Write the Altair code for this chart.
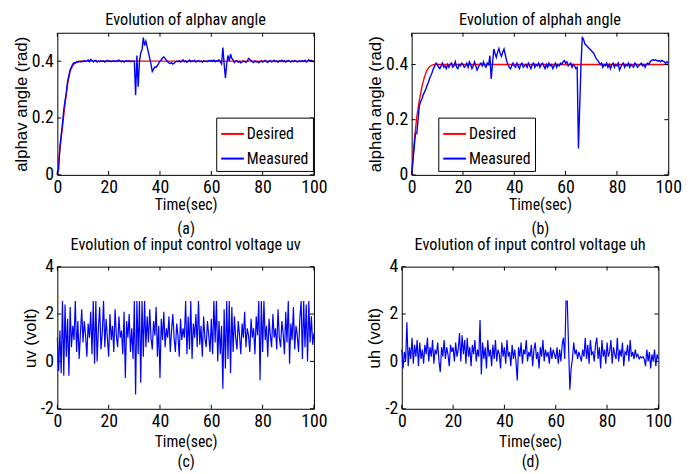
import altair as alt
import pandas as pd
import numpy as np

# ---------------- data ----------------
STEP = 0.5  # seconds between samples of the measured series

alphav_measured = [
    0.0, 0.02, 0.1, 0.14, 0.18, 0.23, 0.26, 0.29, 0.33, 0.35,
    0.37, 0.38, 0.39, 0.395, 0.393, 0.398, 0.396, 0.399, 0.397, 0.4,
    0.398, 0.402, 0.399, 0.401, 0.404, 0.398, 0.406, 0.403, 0.398, 0.401,
    0.403, 0.397, 0.4, 0.398, 0.402, 0.399, 0.401, 0.397, 0.4, 0.403,
    0.399, 0.401, 0.398, 0.4, 0.402, 0.398, 0.401, 0.399, 0.404, 0.4,
    0.398, 0.401, 0.397, 0.4, 0.402, 0.399, 0.401, 0.398, 0.4, 0.4,
    0.40, 0.28, 0.42, 0.31, 0.40, 0.43, 0.44, 0.483, 0.455, 0.47,
    0.45, 0.43, 0.41, 0.39, 0.364, 0.372, 0.38, 0.378, 0.385, 0.392,
    0.40, 0.405, 0.412, 0.415, 0.41, 0.404, 0.398, 0.394, 0.392, 0.395,
    0.39, 0.393, 0.397, 0.4, 0.398, 0.402, 0.397, 0.4, 0.405, 0.398,
    0.401, 0.396, 0.4, 0.404, 0.398, 0.401, 0.399, 0.403, 0.397, 0.4,
    0.402, 0.398, 0.4, 0.397, 0.401, 0.399, 0.4, 0.398, 0.402, 0.4,
    0.403, 0.399, 0.404, 0.398, 0.402, 0.4, 0.405, 0.398, 0.39, 0.448,
    0.39, 0.341, 0.39, 0.42, 0.40, 0.425, 0.41, 0.405, 0.395, 0.4,
    0.402, 0.396, 0.399, 0.394, 0.397, 0.401, 0.398, 0.396, 0.4, 0.41,
    0.406, 0.402, 0.398, 0.395, 0.401, 0.397, 0.399, 0.394, 0.398, 0.401,
    0.397, 0.4, 0.403, 0.398, 0.396, 0.4, 0.402, 0.397, 0.399, 0.403,
    0.398, 0.4, 0.396, 0.401, 0.399, 0.404, 0.398, 0.401, 0.397, 0.4,
    0.403, 0.399, 0.397, 0.401, 0.398, 0.402, 0.4, 0.397, 0.399, 0.401,
    0.398, 0.402, 0.399, 0.403, 0.397, 0.401, 0.405, 0.4, 0.403, 0.399,
    0.398,
]

alphah_measured = [
    0.0, 0.05, 0.1, 0.15, 0.15, 0.2, 0.25, 0.265, 0.275, 0.29,
    0.30, 0.31, 0.324, 0.335, 0.35, 0.36, 0.372, 0.385, 0.395, 0.405,
    0.4, 0.39, 0.385, 0.395, 0.405, 0.39, 0.395, 0.385, 0.4, 0.39,
    0.4, 0.405, 0.39, 0.395, 0.41, 0.39, 0.385, 0.4, 0.395, 0.405,
    0.4, 0.39, 0.395, 0.405, 0.39, 0.41, 0.4, 0.385, 0.395, 0.41,
    0.395, 0.38, 0.39, 0.4, 0.405, 0.395, 0.41, 0.395, 0.39, 0.405,
    0.4, 0.432, 0.348, 0.4, 0.456, 0.44, 0.426, 0.445, 0.458, 0.44,
    0.43, 0.445, 0.456, 0.435, 0.414, 0.4, 0.39, 0.384, 0.395, 0.405,
    0.395, 0.39, 0.405, 0.395, 0.385, 0.4, 0.405, 0.39, 0.395, 0.4,
    0.39, 0.405, 0.395, 0.385, 0.4, 0.405, 0.39, 0.4, 0.395, 0.405,
    0.39, 0.4, 0.405, 0.395, 0.385, 0.4, 0.39, 0.405, 0.395, 0.4,
    0.385, 0.395, 0.405, 0.39, 0.4, 0.395, 0.405, 0.4, 0.41, 0.414,
    0.405, 0.41, 0.395, 0.4, 0.405, 0.39, 0.4, 0.395, 0.385, 0.39,
    0.096, 0.25, 0.40, 0.5, 0.49, 0.475, 0.47, 0.465, 0.46, 0.455,
    0.45, 0.445, 0.44, 0.43, 0.42, 0.415, 0.408, 0.4, 0.405, 0.39,
    0.4, 0.395, 0.405, 0.39, 0.4, 0.385, 0.4, 0.405, 0.39, 0.4,
    0.395, 0.405, 0.38, 0.39, 0.4, 0.405, 0.39, 0.4, 0.395, 0.405,
    0.39, 0.4, 0.395, 0.39, 0.405, 0.4, 0.39, 0.395, 0.4, 0.405,
    0.395, 0.4, 0.39, 0.4, 0.405, 0.4, 0.41, 0.415, 0.417, 0.415,
    0.417, 0.415, 0.412, 0.414, 0.41, 0.415, 0.412, 0.41, 0.405, 0.41,
    0.405,
]

uv_volt = [
    1.0, -0.4, 1.3, -0.5, 2.55, -0.6, 2.4, 0.2, 1.8, -0.6,
    2.3, 0.6, 1.5, 0.9, 2.55, 0.4, 1.7, 0.1, 1.2, 2.2,
    0.8, 1.7, 1.1, 0.2, 1.6, 1.0, 2.1, 0.3, 2.55, -0.1,
    2.55, 0.0, 1.4, 2.3, 0.5, 1.2, 2.55, 0.6, 1.8, 1.0,
    0.2, 2.0, 0.9, 1.5, 0.4, 2.2, 1.1, 0.6, 1.9, 1.0,
    1.3, 0.3, 2.1, -0.7, 1.7, 1.0, 2.0, 0.4, 1.4, 0.1,
    2.55, -1.4, 2.55, 0.3, 2.55, -0.9, 2.55, 0.2, 2.55, 0.6,
    1.9, 0.8, 2.2, 1.0, 0.5, 1.7, 1.1, 2.3, 0.2, 1.5,
    -0.7, 1.8, 0.9, 2.1, 0.6, 1.4, 1.0, 1.9, 0.4, 1.3,
    2.0, 1.0, 0.4, 1.6, 1.1, 0.2, 1.8, 0.9, 1.4, 1.0,
    2.55, 0.3, 1.9, 0.5, 2.55, 0.1, 1.6, 1.0, 2.0, 0.6,
    2.55, 0.7, 1.5, 0.2, 1.9, 1.0, 0.6, 1.7, 1.1, 0.4,
    1.8, 0.3, 2.55, 0.8, 2.55, 0.0, 1.7, 0.3, 1.5, -1.15,
    2.2, -0.3, 2.55, 0.1, 2.55, -0.5, 2.3, 0.4, 1.9, 1.0,
    0.5, 1.7, 1.1, 0.3, 1.6, 1.0, 2.1, 0.6, 1.4, 1.1,
    0.4, 1.8, 1.0, 1.4, 0.3, 1.9, 1.1, 2.55, -0.8, 2.55,
    0.4, 2.55, 0.9, 1.5, 0.2, 1.8, 1.1, 0.6, 2.0, 1.0,
    1.4, 0.5, 2.2, 1.0, 0.6, 1.7, 1.2, 0.3, 2.1, 0.8,
    2.55, -0.1, 1.6, 0.9, 2.3, 0.5, 1.5, 1.1, 0.4, 1.8,
    2.55, 0.1, 2.55, 0.6, 2.4, 0.0, 2.55, 0.8, 1.9, 0.7,
    1.2,
]

uh_volt = [
    0.5, -0.3, 0.4, 0.0, 1.65, -0.2, 0.6, 0.1, 1.0, -0.1,
    0.7, 0.2, 0.9, -0.2, 0.8, 0.1, 0.5, -0.1, 0.7, 0.3,
    1.0, 0.0, 0.6, 0.2, 0.9, -0.1, 0.5, 0.3, 0.8, 0.0,
    -0.45, 0.6, 0.2, 0.9, 0.1, 0.6, 0.3, -0.2, 0.7, 0.4,
    0.6, 0.0, 0.8, 0.2, 0.5, 1.2, 0.0, 1.1, 0.3, 0.9,
    -0.1, 1.0, 0.2, 0.6, -0.2, 0.7, 0.3, 0.9, 0.0, 0.5,
    0.2, 1.75, -0.55, 0.8, 0.1, 0.6, -0.3, 0.9, 0.2, 0.5,
    -0.2, 0.7, 0.1, 0.9, 0.0, 0.5, 0.3, -0.3, 0.8, 0.2,
    0.6, -0.1, 0.9, 0.2, 0.4, -0.2, 0.7, 0.1, 0.5, 0.0,
    -0.8, 0.6, 0.2, 0.8, -0.1, 0.5, 0.3, 0.9, 0.0, 0.4,
    0.2, 0.7, -0.2, 0.5, 0.8, 0.1, 0.4, -0.3, 0.6, 0.2,
    0.9, 0.0, 0.5, 0.2, 0.4, -0.1, 0.6, 0.1, 0.5, 0.3,
    0.1, 0.6, -0.1, 0.5, 0.0, 0.7, 1.0, 0.1, 2.55, 2.55,
    0.6, -1.2, -0.3, 0.1, 0.8, 0.3, 0.5, 0.1, 0.4, 0.2,
    0.0, 0.5, 0.2, 1.0, 0.1, 0.7, -0.1, 0.9, 0.3, 0.4,
    0.0, 0.7, 1.0, 0.1, 0.6, -0.3, 0.9, 0.2, 0.5, -0.1,
    0.8, 0.2, 0.4, 0.9, -0.1, 0.6, 0.3, 0.1, 1.0, 0.0,
    0.5, 0.2, 0.8, -0.2, 0.4, 0.3, 0.7, 0.0, 0.9, 0.2,
    0.4, 0.1, 0.5, 0.2, 0.3, 0.1, 0.2, 0.15, 0.2, 0.1,
    -0.2, 0.5, 0.0, 0.4, -0.3, 0.3, 0.0, 0.5, -0.2, 0.3,
    0.1,
]

desired_v_time = [0, 1, 2, 3, 4, 5, 6, 7, 8, 9, 10, 100]
desired_v = [0, 0.09, 0.17, 0.25, 0.32, 0.365, 0.385, 0.395, 0.399, 0.4, 0.4, 0.4]
desired_h_time = [0, 1, 2, 3, 4, 5, 6, 7, 8, 9, 100]
desired_h = [0, 0.12, 0.21, 0.27, 0.32, 0.355, 0.38, 0.393, 0.398, 0.4, 0.4]

x_ticks = [0, 20, 40, 60, 80, 100]
angle_ticks = [0, 0.2, 0.4]
volt_ticks = [-2, 0, 2, 4]

# ---------------- styling ----------------
NARROW = "Roboto Condensed, Liberation Sans"
REG = "Liberation Sans, Arial"
W, H = 260, 144
TICK = 4


def times(n):
    return np.arange(n) * STEP


XSCALE = alt.Scale(domain=[0, 100], nice=False, zero=False)


def x_enc(sub, lh, tp):
    return alt.X("t:Q", scale=XSCALE,
                 axis=alt.Axis(values=x_ticks, title=["Time(sec)", sub], format="d",
                               titleLineHeight=lh, titlePadding=tp))


def inner_ticks(xe, y_enc, yvals):
    """MATLAB-style ticks pointing into the plot on all four sides."""
    xt = alt.Chart(pd.DataFrame({"t": x_ticks})).mark_rule(color="black", strokeWidth=1)
    yt = alt.Chart(pd.DataFrame({"v": yvals})).mark_rule(color="black", strokeWidth=1)
    return [
        xt.encode(x=xe, y=alt.value(0), y2=alt.value(TICK)),
        xt.encode(x=xe, y=alt.value(H - TICK), y2=alt.value(H)),
        yt.encode(y=y_enc, x=alt.value(0), x2=alt.value(TICK)),
        yt.encode(y=y_enc, x=alt.value(W - TICK), x2=alt.value(W)),
    ]


def angle_panel(title, ytitle, sub, dt, dv, meas, ymax, lx, ly):
    df = pd.concat([
        pd.DataFrame({"t": dt, "v": dv, "s": "Desired"}),
        pd.DataFrame({"t": times(len(meas)), "v": meas, "s": "Measured"}),
    ])
    xe = x_enc(sub, 24, 0)
    y_enc = alt.Y("v:Q", scale=alt.Scale(domain=[0, ymax], nice=False),
                  axis=alt.Axis(values=angle_ticks, format="~g", title=ytitle))
    lines = alt.Chart(df).mark_line(strokeWidth=1.4).encode(
        x=xe,
        y=y_enc,
        color=alt.Color("s:N",
                        scale=alt.Scale(domain=["Desired", "Measured"], range=["#ff0000", "#0000ff"]),
                        legend=alt.Legend(title=None, orient="none", legendX=lx, legendY=ly,
                                          fillColor="white", strokeColor="black", padding=4,
                                          symbolType="stroke", symbolSize=529, symbolStrokeWidth=2,
                                          labelFont=NARROW, labelFontSize=16, labelColor="black",
                                          rowPadding=4, labelOffset=2)),
        detail="s:N",
    )
    return alt.layer(lines, *inner_ticks(xe, y_enc, angle_ticks), title=title).properties(
        width=W, height=H)


def volt_panel(title, ytitle, sub, vals):
    df = pd.DataFrame({"t": times(len(vals)), "v": vals})
    xe = x_enc(sub, 21, 3)
    y_enc = alt.Y("v:Q", scale=alt.Scale(domain=[-2, 4], nice=False),
                  axis=alt.Axis(values=volt_ticks, labelExpr="toString(datum.value)", title=ytitle))
    line = alt.Chart(df).mark_line(strokeWidth=1.2, color="#0000ff").encode(x=xe, y=y_enc)
    return alt.layer(line, *inner_ticks(xe, y_enc, volt_ticks), title=title).properties(
        width=W, height=H)


pa = angle_panel("Evolution of alphav angle", "alphav angle  (rad)", "(a)",
                 desired_v_time, desired_v, alphav_measured, 0.5, 161, 86)
pb = angle_panel("Evolution of alphah angle", "alphah angle  (rad)", "(b)",
                 desired_h_time, desired_h, alphah_measured, 0.515, 27, 86)
pc = volt_panel("Evolution of input control voltage uv", "uv  (volt)", "(c)", uv_volt)
pd_ = volt_panel("Evolution of input control voltage uh", "uh  (volt)", "(d)", uh_volt)

row1 = alt.hconcat(pa, pb, spacing=38).resolve_scale(color="independent").resolve_legend(color="independent")
row2 = alt.hconcat(pc, pd_, spacing=38)
chart = alt.vconcat(row1, row2, spacing=0).properties(
    padding={"left": 3, "top": 0, "right": 5, "bottom": 0}, background="white"
).configure_view(stroke="black", strokeWidth=1).configure_axis(
    domain=False, grid=False, ticks=False, labelFont=NARROW, labelFontSize=18,
    labelColor="black", labelPadding=4,
    titleFont=REG, titleFontSize=17, titleFontWeight="normal", titleColor="black",
).configure_axisX(
    titleFont=NARROW, titleFontSize=16, labelFlush=False,
).configure_axisY(
    titlePadding=1,
).configure_title(
    font=NARROW, fontSize=16.5, fontWeight="normal", color="black", offset=0,
)

chart.save("out.html", embed_options={"renderer": "svg", "actions": False})
